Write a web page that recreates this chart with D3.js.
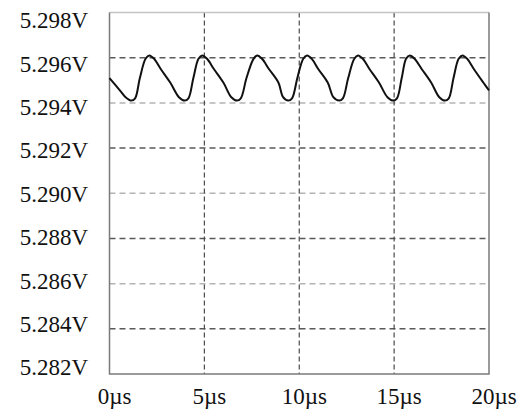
<!DOCTYPE html>
<html>
<head>
<meta charset="utf-8">
<script src="https://cdn.jsdelivr.net/npm/d3@7"></script>
<style>
    body { margin: 0; background: #fff; }
    text { font-family: "Liberation Serif", "Times New Roman", serif; fill: #111; }
</style>
</head>
<body>
<div class="chart"></div>
<script>
// time in microseconds
var timeUs = [0, 0.6, 0.85, 1.15,
    1.35, 1.6, 1.9, 2.1, 2.35, 2.7, 3.2, 3.66, 3.96,
    4.16, 4.42, 4.69, 4.89, 5.14, 5.5, 6.0, 6.42, 6.72,
    6.92, 7.22, 7.59, 7.79, 8.04, 8.4, 8.9, 9.15, 9.42,
    9.62, 9.9, 10.21, 10.41, 10.66, 11.0, 11.5, 11.8, 12.1,
    12.3, 12.58, 12.9, 13.1, 13.35, 13.7, 14.2, 14.65, 14.95,
    15.15, 15.4, 15.63, 15.83, 16.08, 16.45, 16.95, 17.38, 17.68,
    17.88, 18.13, 18.4, 18.6, 18.85, 19.2, 19.7, 20];
// volts
var voltage = [5.2951, 5.2945, 5.29425, 5.2941,
    5.2942, 5.2951, 5.29595, 5.2961, 5.29595, 5.2955, 5.2949, 5.29425, 5.2941,
    5.2942, 5.2951, 5.29595, 5.2961, 5.29595, 5.2955, 5.2949, 5.29425, 5.2941,
    5.2942, 5.2951, 5.29595, 5.2961, 5.29595, 5.2955, 5.2949, 5.29425, 5.2941,
    5.2942, 5.2951, 5.29595, 5.2961, 5.29595, 5.2955, 5.2949, 5.29425, 5.2941,
    5.2942, 5.2951, 5.29595, 5.2961, 5.29595, 5.2955, 5.2949, 5.29425, 5.2941,
    5.2942, 5.2951, 5.29595, 5.2961, 5.29595, 5.2955, 5.2949, 5.29425, 5.2941,
    5.2942, 5.2951, 5.29595, 5.2961, 5.29595, 5.2955, 5.2949, 5.29455];

var xTicks = [0, 5, 10, 15, 20];
var yTicks = [5.282, 5.284, 5.286, 5.288, 5.290, 5.292, 5.294, 5.296, 5.298];
var yLabels = ["5.282V", "5.284V", "5.286V", "5.288V", "5.290V", "5.292V", "5.294V", "5.296V", "5.298V"];

var data = timeUs.map(function (t, i) {
    return { t: t, v: voltage[i] };
});

var width = 525, height = 414;
var margin = { top: 12.5, right: 36, bottom: 40, left: 109.5 };
var innerW = width - margin.left - margin.right;
var innerH = height - margin.top - margin.bottom;

var svg = d3.select(".chart")
    .append("svg")
    .attr("width", width)
    .attr("height", height);

var g = svg.append("g")
    .attr("transform", "translate(" + margin.left + "," + margin.top + ")");

var x = d3.scaleLinear().domain([0, 20]).range([0, innerW]);
var y = d3.scaleLinear().domain([5.282, 5.298]).range([innerH, 0]);
// the tick labels sit a little closer together than the grid
var yLab = d3.scaleLinear().domain([5.282, 5.298]).range([367.5, 20.5]);

// horizontal grid, dark and light dashes alternate
g.selectAll(".hgrid")
    .data(yTicks.slice(1, -1))
    .enter()
    .append("line")
    .attr("x1", 0)
    .attr("x2", innerW)
    .attr("y1", function (d) { return y(d); })
    .attr("y2", function (d) { return y(d); })
    .attr("stroke", function (d, i) { return i % 2 === 0 ? "#5a5a5a" : "#b4b4b4"; })
    .attr("stroke-width", 1.5)
    .attr("stroke-dasharray", "6,4");

// vertical grid
g.selectAll(".vgrid")
    .data(xTicks.slice(1, -1))
    .enter()
    .append("line")
    .attr("x1", function (d) { return x(d); })
    .attr("x2", function (d) { return x(d); })
    .attr("y1", 0)
    .attr("y2", innerH)
    .attr("stroke", "#4a4a4a")
    .attr("stroke-width", 1.2)
    .attr("stroke-dasharray", "5,3");

// frame
g.append("line")
    .attr("x1", 0).attr("x2", innerW)
    .attr("y1", 0).attr("y2", 0)
    .attr("stroke", "#c4c4c4")
    .attr("stroke-width", 1.5);
g.append("path")
    .attr("d", "M0,0V" + innerH + "H" + innerW + "V0")
    .attr("fill", "none")
    .attr("stroke", "#7a7a7a")
    .attr("stroke-width", 1.5);

// trace
g.append("path")
    .datum(data)
    .attr("fill", "none")
    .attr("stroke", "#111")
    .attr("stroke-width", 2)
    .attr("d", d3.line()
        .curve(d3.curveCatmullRom.alpha(0.5))
        .x(function (d) { return x(d.t); })
        .y(function (d) { return y(d.v); })
    );

// y labels
svg.selectAll(".ylab")
    .data(yTicks)
    .enter()
    .append("text")
    .attr("x", 88)
    .attr("y", function (d) { return yLab(d); })
    .attr("dy", "0.34em")
    .attr("text-anchor", "end")
    .style("font-size", "23px")
    .text(function (d, i) { return yLabels[i]; });

// x labels
svg.selectAll(".xlab")
    .data(xTicks)
    .enter()
    .append("text")
    .attr("x", function (d) { return margin.left + x(d) + 5; })
    .attr("y", 404)
    .attr("text-anchor", "middle")
    .style("font-size", "23px")
    .text(function (d) { return d + "µs"; });
</script>
</body>
</html>
